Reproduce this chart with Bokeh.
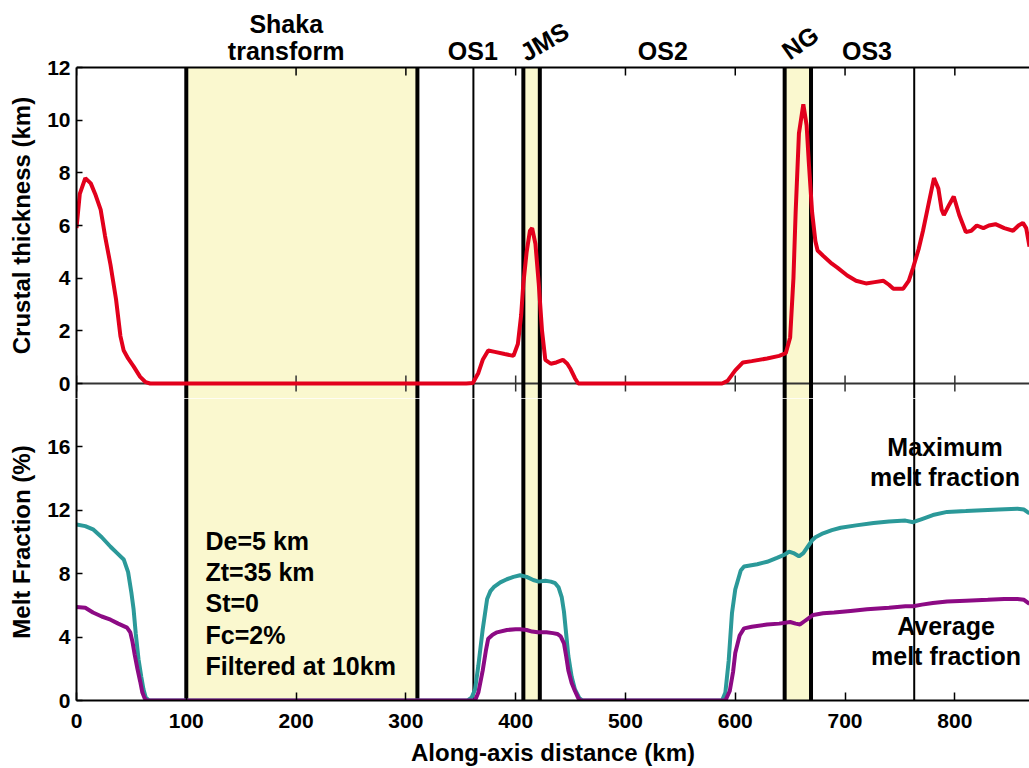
from bokeh.plotting import figure
from bokeh.models import Range1d, FixedTicker, Label, BoxAnnotation, Span
from bokeh.layouts import column, row
from bokeh.embed import file_html
from bokeh.resources import INLINE

# ---------------- data ----------------
crust_x = [0, 3, 8, 13, 17, 22, 26, 31, 36, 40, 43, 47, 52, 58, 63, 67, 100, 200, 300, 355,
           361, 366, 370, 375, 381, 390, 398, 402, 405, 407, 410, 413, 415, 418, 421, 424, 427,
           432, 437, 443, 447, 450, 454, 457, 500, 588, 593, 600, 607, 615, 629, 640, 646, 650,
           653, 655, 658, 662, 665, 667, 670, 673, 675, 680, 688, 693, 702, 710, 719, 727, 735,
           740, 744, 753, 758, 762, 767, 771, 776, 781, 785, 788, 790, 795, 799, 804, 810, 815,
           820, 826, 831, 837, 845, 853, 858, 862, 865, 868]
crust_km = [5.9, 7.2, 7.8, 7.6, 7.2, 6.6, 5.6, 4.5, 3.2, 1.8, 1.25, 0.95, 0.65, 0.25, 0.05, 0, 0, 0, 0, 0,
            0.02, 0.4, 0.9, 1.25, 1.2, 1.12, 1.05, 1.5, 2.6, 3.8, 5.0, 5.8, 5.9, 5.3, 3.8, 2.0, 0.9,
            0.75, 0.8, 0.9, 0.75, 0.55, 0.2, 0, 0, 0, 0.1, 0.5, 0.8, 0.85, 0.95, 1.05, 1.15, 1.75,
            4.0, 6.5, 9.5, 10.6, 9.8, 8.4, 6.5, 5.4, 5.05, 4.85, 4.55, 4.4, 4.1, 3.9, 3.8, 3.85, 3.9,
            3.75, 3.6, 3.6, 3.9, 4.4, 5.1, 5.8, 6.8, 7.8, 7.4, 6.6, 6.4, 6.8, 7.1, 6.4, 5.75, 5.8,
            6.0, 5.9, 6.0, 6.05, 5.9, 5.8, 6.0, 6.1, 5.9, 5.2]

max_x = [0, 8, 15, 23, 31, 37, 43, 47, 50, 52, 54, 56.5, 59, 61, 63, 66, 300, 356,
         360, 363, 366, 370, 374, 377, 380, 386, 392, 398, 404, 410, 416, 421, 427, 432, 436,
         439, 442, 444, 446, 448, 451, 454, 458, 461, 588, 591, 594, 597, 600, 605, 608, 612,
         620, 629, 638, 645, 649, 653, 658, 662, 666, 670, 673, 680, 688, 696, 710, 726, 740,
         755, 762, 770, 780, 793, 810, 825, 840, 857, 863, 868]
max_melt = [11.1, 11.0, 10.8, 10.3, 9.7, 9.3, 8.9, 8.1, 6.8, 5.75, 4.2, 2.6, 1.5, 0.7, 0.2, 0, 0, 0,
            0.2, 0.7, 2.2, 4.5, 6.4, 6.9, 7.15, 7.45, 7.65, 7.8, 7.9, 7.8, 7.6, 7.5, 7.55, 7.5, 7.4,
            7.15, 6.5, 5.6, 4.2, 2.8, 1.5, 0.7, 0.15, 0, 0, 0.5, 2.5, 5.5, 7.0, 8.2, 8.45, 8.5,
            8.6, 8.75, 9.0, 9.2, 9.4, 9.3, 9.1, 9.3, 9.7, 10.1, 10.3, 10.55, 10.75, 10.9, 11.05, 11.2, 11.3,
            11.35, 11.25, 11.45, 11.7, 11.9, 11.95, 12.0, 12.05, 12.1, 12.05, 11.8]

avg_x = [0, 8, 15, 23, 31, 38, 46, 49, 51, 53, 55.5, 58, 60, 62, 64, 363,
         366, 370, 373, 375, 379, 383, 392, 400, 404, 410, 415, 420, 428, 434, 438, 441, 444,
         446, 448, 451, 454, 457, 459, 591, 595, 598, 600, 604, 608, 615, 629, 640, 650, 655,
         659, 663, 667, 671, 680, 690, 705, 720, 740, 755, 762, 770, 780, 793, 810, 830, 845,
         857, 863, 868]
avg_melt = [5.9, 5.85, 5.55, 5.3, 5.1, 4.85, 4.6, 4.3, 3.7, 2.9, 2.0, 1.2, 0.5, 0.15, 0, 0,
            0.5, 1.9, 3.2, 3.9, 4.15, 4.3, 4.45, 4.5, 4.5, 4.45, 4.35, 4.3, 4.3, 4.25, 4.2, 4.05, 3.6,
            2.8, 1.9, 1.1, 0.6, 0.15, 0, 0, 0.6, 1.8, 3.0, 4.1, 4.55, 4.65, 4.8, 4.85, 4.95, 4.85,
            4.8, 5.0, 5.2, 5.4, 5.5, 5.55, 5.65, 5.75, 5.85, 5.95, 5.95, 6.05, 6.15, 6.25, 6.3, 6.35, 6.4,
            6.4, 6.35, 6.1]

shade_left = [100, 407, 645]
shade_right = [310.5, 422, 669]
thick_lines = [100, 310.5, 407, 422, 645, 669]
thin_lines = [361.5, 763]

x_ticks = [0, 100, 200, 300, 400, 500, 600, 700, 800]
crust_ticks = [0, 2, 4, 6, 8, 10, 12]
melt_ticks = [0, 4, 8, 12, 16]

segment_labels = ["Shaka", "transform", "OS1", "JMS", "OS2", "NG", "OS3"]
param_lines = ["De=5 km", "Zt=35 km", "St=0", "Fc=2%", "Filtered at 10km"]
y_titles = ["Crustal thickness (km)", "Melt Fraction (%)"]
x_title = "Along-axis distance (km)"

FONT = "Liberation Sans"
RED = "#E2001C"
TEAL = "#2B9999"
PURPLE = "#8C0A84"
YELLOW = "#FAF8CF"
XMAX = 868
CRUST_TOP = 12
MELT_TOP = 20

# ---------------- geometry (pixels) ----------------
W, H = 1029, 768
LEFT_STRIP = 40
AXIS_W = 36
TOP_Y0 = 67      # pixel of crust = 12
MID_Y = 383      # pixel of crust = 0 / melt = 20
BOT_Y = 700      # pixel of melt = 0
SPLIT = 398      # canvas split between the two panels

crust_ppu = (MID_Y - TOP_Y0) / CRUST_TOP
melt_ppu = (BOT_Y - MID_Y) / MELT_TOP
crust_range = Range1d(-(SPLIT - MID_Y) / crust_ppu, MID_Y / crust_ppu)
melt_range = Range1d(0, (BOT_Y - SPLIT) / melt_ppu)


def style_y(ax, ticks):
    ax.ticker = FixedTicker(ticks=ticks)
    ax.major_label_text_font = FONT
    ax.major_label_text_font_style = "bold"
    ax.major_label_text_font_size = "21px"
    ax.major_label_text_color = "black"
    ax.major_label_standoff = 6
    ax.major_tick_in = 6
    ax.major_tick_out = 0
    ax.minor_tick_line_color = None
    ax.axis_line_width = 2
    ax.axis_line_color = "black"
    ax.major_tick_line_width = 1.5
    ax.major_tick_line_color = "black"


def lab(p, x, y, text, angle=0, align="center", size="25px"):
    p.add_layout(Label(x=x, y=y, text=text, angle=angle, angle_units="deg",
                       text_align=align, text_baseline="middle",
                       text_font=FONT, text_font_style="bold",
                       text_font_size=size, text_color="black"))


# ---------------- left strip with rotated axis titles ----------------
pL = figure(width=LEFT_STRIP, height=H, output_backend="svg", toolbar_location=None,
            x_range=Range1d(0, LEFT_STRIP), y_range=Range1d(0, H),
            x_axis_location=None, y_axis_location=None, min_border=0)
pL.grid.visible = False
pL.outline_line_color = None
lab(pL, 21, H - (TOP_Y0 + MID_Y) / 2, y_titles[0], angle=90, size="24px")
lab(pL, 21, H - (MID_Y + BOT_Y) / 2, y_titles[1], angle=90, size="24px")

# ---------------- top panel (crust) ----------------
p1 = figure(width=W - LEFT_STRIP, height=SPLIT, output_backend="svg", toolbar_location=None,
            x_range=Range1d(0, XMAX), y_range=crust_range,
            x_axis_location=None, min_border_left=AXIS_W, min_border_right=0,
            min_border_top=0, min_border_bottom=0)
p1.grid.visible = False
p1.outline_line_color = None
style_y(p1.yaxis[0], crust_ticks)
p1.yaxis[0].bounds = (crust_range.start, CRUST_TOP)

for l, r in zip(shade_left, shade_right):
    p1.add_layout(BoxAnnotation(left=l, right=r, top=CRUST_TOP, fill_color=YELLOW,
                                fill_alpha=1.0, line_color=None, level="underlay"))
p1.add_layout(Span(location=0, dimension="width", line_color="#333333", line_width=2,
                   level="underlay"))
p1.add_layout(Span(location=CRUST_TOP, dimension="width", line_color="black", line_width=2))
tick_len = 8 / crust_ppu
p1.segment(x0=x_ticks, x1=x_ticks, y0=[CRUST_TOP] * len(x_ticks),
           y1=[CRUST_TOP - tick_len] * len(x_ticks), line_color="black", line_width=1.5)
p1.segment(x0=x_ticks, x1=x_ticks, y0=[-tick_len] * len(x_ticks),
           y1=[tick_len] * len(x_ticks), line_color="#333333", line_width=1.5)
p1.segment(x0=thick_lines, x1=thick_lines, y0=[crust_range.start] * len(thick_lines),
           y1=[CRUST_TOP] * len(thick_lines), line_color="black", line_width=4)
p1.segment(x0=thin_lines, x1=thin_lines, y0=[crust_range.start] * len(thin_lines),
           y1=[CRUST_TOP] * len(thin_lines), line_color="black", line_width=2)
p1.line(crust_x, crust_km, line_color=RED, line_width=4)

lab(p1, 191, (MID_Y - 23) / crust_ppu, segment_labels[0])
lab(p1, 191, (MID_Y - 50) / crust_ppu, segment_labels[1])
lab(p1, 361, (MID_Y - 50) / crust_ppu, segment_labels[2])
lab(p1, 426, (MID_Y - 41) / crust_ppu, segment_labels[3], angle=30)
lab(p1, 534, (MID_Y - 50) / crust_ppu, segment_labels[4])
lab(p1, 659, (MID_Y - 42) / crust_ppu, segment_labels[5], angle=35)
lab(p1, 720, (MID_Y - 50) / crust_ppu, segment_labels[6])

# ---------------- bottom panel (melt) ----------------
p2 = figure(width=W - LEFT_STRIP, height=H - SPLIT, output_backend="svg", toolbar_location=None,
            x_range=p1.x_range, y_range=melt_range,
            min_border_left=AXIS_W, min_border_right=0, min_border_top=0,
            min_border_bottom=H - BOT_Y)
p2.grid.visible = False
p2.outline_line_color = None
style_y(p2.yaxis[0], melt_ticks)

xa = p2.xaxis[0]
xa.ticker = FixedTicker(ticks=x_ticks)
xa.axis_label = x_title
xa.axis_label_text_font = FONT
xa.axis_label_text_font_style = "bold"
xa.axis_label_text_font_size = "24px"
xa.axis_label_text_color = "black"
xa.axis_label_standoff = 8
xa.major_label_text_font = FONT
xa.major_label_text_font_style = "bold"
xa.major_label_text_font_size = "21px"
xa.major_label_text_color = "black"
xa.major_label_standoff = 13
xa.major_tick_in = 8
xa.major_tick_out = 0
xa.minor_tick_line_color = None
xa.axis_line_width = 2
xa.axis_line_color = "black"
xa.major_tick_line_color = "black"
xa.major_tick_line_width = 1.5

for l, r in zip(shade_left, shade_right):
    p2.add_layout(BoxAnnotation(left=l, right=r, fill_color=YELLOW, fill_alpha=1.0,
                                line_color=None, level="underlay"))
for xv in thick_lines:
    p2.add_layout(Span(location=xv, dimension="height", line_color="black",
                       line_width=4, level="underlay"))
for xv in thin_lines:
    p2.add_layout(Span(location=xv, dimension="height", line_color="black",
                       line_width=2, level="underlay"))

p2.line(max_x, max_melt, line_color=TEAL, line_width=4)
p2.line(avg_x, avg_melt, line_color=PURPLE, line_width=4)

param_mid_px = [540, 571, 602, 634, 665]
for t, py in zip(param_lines, param_mid_px):
    lab(p2, 117.5, (BOT_Y - py) / melt_ppu, t, align="left")

lab(p2, 791, (BOT_Y - 446) / melt_ppu, "Maximum")
lab(p2, 791, (BOT_Y - 476) / melt_ppu, "melt fraction")
lab(p2, 792, (BOT_Y - 625) / melt_ppu, "Average")
lab(p2, 792, (BOT_Y - 655) / melt_ppu, "melt fraction")

layout = row(pL, column(p1, p2, spacing=0), spacing=0)
open("out.html", "w").write(file_html(layout, INLINE))
